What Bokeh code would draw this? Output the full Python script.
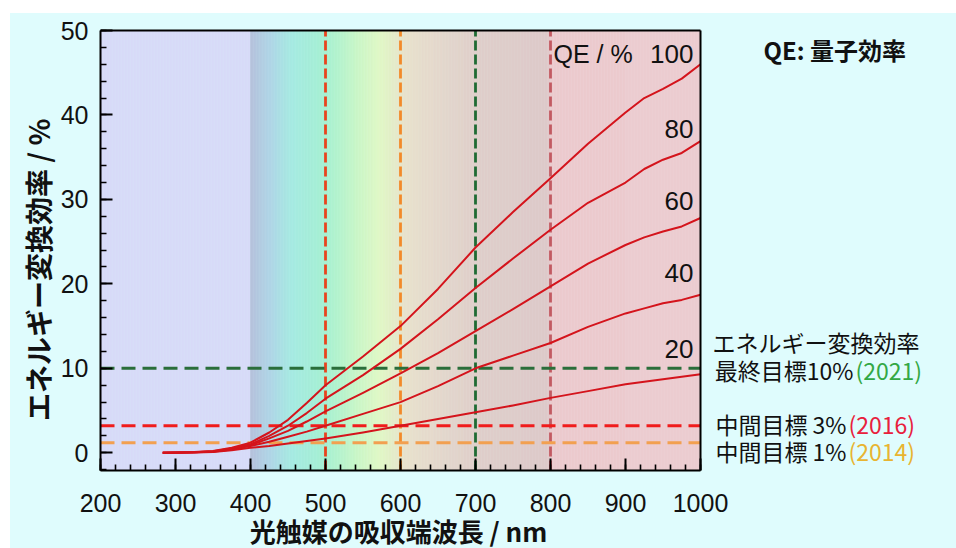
import numpy as np
from bokeh.plotting import figure
from bokeh.layouts import column, row
from bokeh.models import Range1d, FixedTicker, Spacer
from bokeh.core.properties import value
from bokeh.embed import file_html
from bokeh.resources import INLINE

# ---------------- data ----------------
wavelength = [283, 300, 325, 350, 375, 400, 425, 450, 475, 500, 550, 600, 650, 700,
              750, 800, 850, 900, 925, 950, 975, 1000]
qe_20 = [0, 0.01, 0.04, 0.10, 0.3, 0.6, 0.8, 1.1, 1.4, 1.7, 2.4, 3.2, 4.0, 4.8,
         5.6, 6.5, 7.3, 8.1, 8.4, 8.7, 9.0, 9.3]
qe_40 = [0, 0.01, 0.05, 0.12, 0.4, 0.8, 1.3, 1.9, 2.5, 3.2, 4.6, 6.0, 7.9, 10.0,
         11.5, 13.0, 14.9, 16.5, 17.1, 17.7, 18.1, 18.7]
qe_60 = [0, 0.02, 0.06, 0.15, 0.45, 0.9, 1.7, 2.6, 3.7, 4.9, 7.1, 9.4, 11.8, 14.4,
         17.0, 19.7, 22.4, 24.6, 25.5, 26.2, 26.8, 27.8]
qe_80 = [0, 0.02, 0.07, 0.18, 0.5, 1.0, 2.0, 3.2, 4.7, 6.4, 9.2, 12.3, 15.8, 19.5,
         23.0, 26.4, 29.6, 32.0, 33.6, 34.7, 35.5, 36.9]
qe_100 = [0, 0.02, 0.08, 0.20, 0.6, 1.2, 2.4, 3.9, 5.9, 8.0, 11.4, 15.0, 19.4, 24.3,
          28.5, 32.5, 36.6, 40.3, 42.0, 43.1, 44.3, 46.0]
qe_series = [qe_20, qe_40, qe_60, qe_80, qe_100]
qe_levels = ["20", "40", "60", "80", "100"]
qe_label_y = [12.3, 21.3, 29.8, 38.3, 47.2]

edge_wavelengths = [500, 600, 700, 800]
edge_colors = ["#e8431e", "#f28a2a", "#1f6b33", "#c25a62"]

target_values = [10.0, 3.2, 1.2]
target_colors = ["#2a6e3a", "#f01c1c", "#f2a050"]
target_texts = ["最終目標10%", "中間目標 3%", "中間目標 1%"]
target_years = ["(2021)", "(2016)", "(2014)"]
year_colors = ["#33a845", "#e8203c", "#e8b431"]
target_header = "エネルギー変換効率"

x_ticks = [200, 300, 400, 500, 600, 700, 800, 900, 1000]
y_ticks = [0, 10, 20, 30, 40, 50]

x_label = "光触媒の吸収端波長 / nm"
y_label = "エネルギー変換効率 / %"
qe_title = "QE / %"
qe_note = "QE: 量子効率"

# ---------------- style / layout ----------------
X0, X1 = 200, 1000
Y0, Y1 = -2.1, 50
PAGE_BG = "#dffcfd"
bg_stops = [
    (200, "#d7dbf8"), (400, "#d7dbf8"), (400.5, "#b6c2dc"), (425, "#b0d4e6"),
    (455, "#a6eae2"), (500, "#a6f0d2"), (540, "#c8f6c8"), (572, "#e0f8c6"),
    (608, "#e8e1cc"), (650, "#e4d8cc"), (700, "#dfd0cb"), (796, "#ddc9c9"),
    (802, "#eccbcf"), (1000, "#ecccd0"),
]
CJK = "Noto Sans CJK JP"
LAT = "Liberation Sans"

PAGE_W, PAGE_H = 956, 548
TOP_WHITE, LEFT_WHITE = 13, 10
FIG_W = PAGE_W - LEFT_WHITE          # 946
LEFT = 90                            # frame starts at page x = 100
PLOT_W = 600                         # 200..1000 nm
PLOT_H = 440                         # -2.1..50
PAD_TOP = 2                          # room above the 50-line so the box line is not clipped
TOP = 30 - TOP_WHITE - PAD_TOP
BOT = 52
MAIN_H = TOP + PAD_TOP + PLOT_H + BOT
OVERLAP = 14                         # bottom strip slides up over the tick-label area
BH = PAGE_H - TOP_WHITE - MAIN_H + OVERLAP

xs = PLOT_W / (X1 - X0)
ys = PLOT_H / (Y1 - Y0)
X_MAX = X0 + (FIG_W - LEFT) / xs
Y_MAX = Y1 + PAD_TOP / ys


def hex2rgb(h):
    h = h.lstrip("#")
    return np.array([int(h[i:i + 2], 16) for i in (0, 2, 4)], dtype=float)


def bg_color(x):
    for (xa, ca), (xb, cb) in zip(bg_stops[:-1], bg_stops[1:]):
        if xa <= x <= xb:
            t = 0 if xb == xa else (x - xa) / (xb - xa)
            c = hex2rgb(ca) * (1 - t) + hex2rgb(cb) * t
            return "#%02x%02x%02x" % tuple(int(round(v)) for v in c)
    return bg_stops[-1][1]


p = figure(
    width=FIG_W, height=MAIN_H, title=None,
    x_range=Range1d(X0, X_MAX), y_range=Range1d(Y0, Y_MAX),
    output_backend="svg", toolbar_location=None,
    min_border_left=LEFT, min_border_right=0, min_border_top=TOP, min_border_bottom=BOT,
    border_fill_color=PAGE_BG, background_fill_color=PAGE_BG,
    outline_line_color=None,
)
p.xgrid.visible = False
p.ygrid.visible = False

# background spectrum bands
step = 2
lefts = np.arange(X0, X1, step)
cols = [bg_color(l + step / 2) for l in lefts]
p.quad(left=lefts, right=lefts + step, bottom=Y0, top=Y1,
       fill_color=cols, line_color=cols, line_width=0.6)

# dashed guide lines
for xw, c in zip(edge_wavelengths, edge_colors):
    p.segment(x0=[xw], x1=[xw], y0=[Y0], y1=[Y1], line_color=c,
              line_width=2.8, line_dash="10 4")
for yv, c in zip(target_values, target_colors):
    p.segment(x0=[X0], x1=[X1], y0=[yv], y1=[yv], line_color=c,
              line_width=3, line_dash="14 7")

# QE curves
for s in qe_series:
    p.line(wavelength, s, line_color="#d4141c", line_width=2, line_join="round")

# plot box (top and right sides)
p.segment(x0=[X0, X1], x1=[X1, X1], y0=[Y1, Y0], y1=[Y1, Y1],
          line_color="black", line_width=2)

# QE labels inside
p.text(x=[X1] * len(qe_levels), y=qe_label_y, text=qe_levels, x_offset=-7,
       text_align="right", text_baseline="middle", text_font=value(LAT),
       text_font_size="26px", text_color="#111111")
p.text(x=[edge_wavelengths[-1]], y=[Y1], text=[qe_title], x_offset=3, y_offset=23,
       text_align="left", text_baseline="middle", text_font=value(LAT),
       text_font_size="25px", text_color="#111111")

# right-hand notes (x offsets in px from the right side of the box)
p.text(x=[X1], y=[Y1], x_offset=63, y_offset=19, text=[qe_note], text_align="left",
       text_baseline="middle", text_font=value(CJK), text_font_style="bold",
       text_font_size="24px", text_color="#111111")
p.text(x=[X1], y=[target_values[0]], x_offset=12, y_offset=-26, text=[target_header],
       text_align="left", text_baseline="middle", text_font=value(CJK),
       text_font_size="23px", text_color="#111111")
junction = [153, 146, 146]
yoffs = [2, -2, 8]
for t, yr, v, jx, yo, yc in zip(target_texts, target_years, target_values, junction, yoffs, year_colors):
    p.text(x=[X1], y=[v], x_offset=jx, y_offset=yo, text=[t], text_align="right",
           text_baseline="middle", text_font=value(CJK), text_font_size="23px",
           text_color="#111111")
    p.text(x=[X1], y=[v], x_offset=jx + 2, y_offset=yo, text=[yr], text_align="left",
           text_baseline="middle", text_font=value(CJK), text_font_size="23px",
           text_color=yc)

# axes
p.xaxis.ticker = FixedTicker(ticks=x_ticks, minor_ticks=list(range(X0, X1 + 1, 20)))
p.yaxis.ticker = FixedTicker(ticks=y_ticks, minor_ticks=list(range(-2, 51, 2)))
p.xaxis.bounds = (X0, X1)
p.yaxis.bounds = (Y0, Y1)
for ax in (p.xaxis[0], p.yaxis[0]):
    ax.axis_line_width = 2
    ax.axis_line_color = "black"
    ax.major_tick_in = 12
    ax.major_tick_out = 0
    ax.minor_tick_in = 6
    ax.minor_tick_out = 0
    ax.major_tick_line_width = 2
    ax.minor_tick_line_width = 1.6
    ax.major_tick_line_color = "black"
    ax.minor_tick_line_color = "black"
    ax.major_label_text_font = LAT
    ax.major_label_text_font_size = "25px"
    ax.major_label_text_color = "#111111"
p.xaxis.major_label_standoff = 23
p.yaxis.major_label_standoff = 12
p.yaxis.axis_label = y_label + "\u3000\u00a0\u00a0"
p.yaxis.axis_label_text_font = CJK
p.yaxis.axis_label_text_font_style = "bold"
p.yaxis.axis_label_text_font_size = "28px"
p.yaxis.axis_label_text_color = "#111111"
p.yaxis.axis_label_standoff = 0

# bottom strip with the x-axis title (same horizontal scale as the main plot);
# transparent, pulled up so the title has room without hiding the tick labels
pb = figure(width=FIG_W, height=BH, title=None, x_range=p.x_range, y_range=Range1d(0, BH),
            output_backend="svg", toolbar_location=None,
            x_axis_location=None, y_axis_location=None,
            min_border_left=LEFT, min_border_right=0, min_border_top=0, min_border_bottom=0,
            border_fill_color=None, background_fill_color=None,
            outline_line_color=None, styles={"margin-top": "-%dpx" % OVERLAP})
pb.xgrid.visible = False
pb.ygrid.visible = False
pb.text(x=[(X0 + X1) / 2], y=[18], x_offset=-2, text=[x_label], text_align="center",
        text_baseline="middle", text_font=value(CJK), text_font_style="bold",
        text_font_size="26px", text_color="#111111")

inner = column(p, pb, styles={"background-color": PAGE_BG})
layout = column(
    Spacer(width=PAGE_W, height=TOP_WHITE),
    row(Spacer(width=LEFT_WHITE, height=MAIN_H + BH - OVERLAP), inner),
)

open("out.html", "w").write(file_html(layout, INLINE))
